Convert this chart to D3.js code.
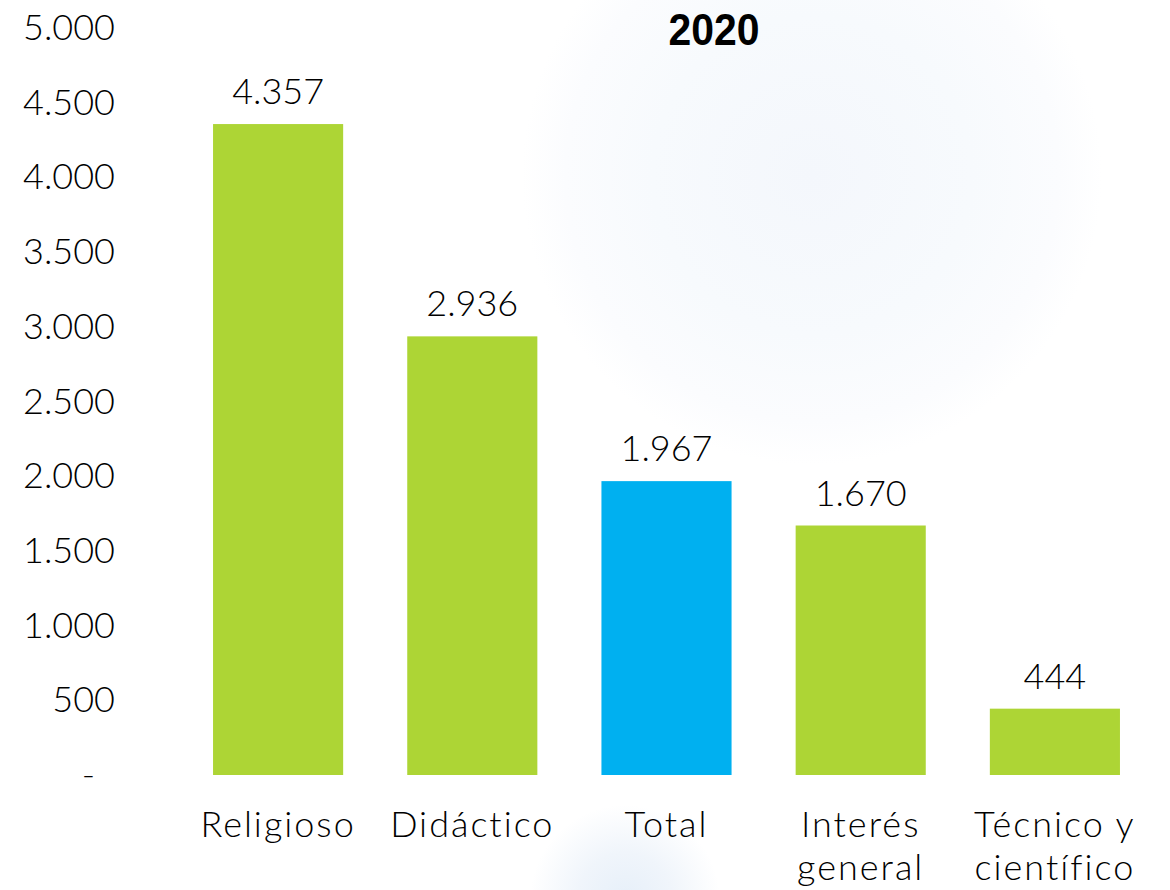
<!DOCTYPE html>
<html><head><meta charset="utf-8">
<script src="https://cdn.jsdelivr.net/npm/d3@7/dist/d3.min.js"></script>
<style>body{margin:0;background:#fff}svg{display:block}</style>
</head><body>
<svg id="chart" width="1170" height="890"></svg>
<script>
const categories = ["Religioso", "Didáctico", "Total", "Interés general", "Técnico y científico"];
const categoryLines = [["Religioso"], ["Didáctico"], ["Total"], ["Interés", "general"], ["Técnico y", "científico"]];
const values = [4357, 2936, 1967, 1670, 444];
const highlight = ["Total"];
const yTicks = [0, 500, 1000, 1500, 2000, 2500, 3000, 3500, 4000, 4500, 5000];
const title = "2020";

const svg = d3.select("#chart");
const font = "Lato, 'Noto Sans', sans-serif";
const defs = svg.append("defs");
const g1 = defs.append("radialGradient").attr("id", "bg1");
g1.append("stop").attr("offset", "0%").attr("stop-color", "#f4f7fc");
g1.append("stop").attr("offset", "55%").attr("stop-color", "#f7fafd");
g1.append("stop").attr("offset", "85%").attr("stop-color", "#fbfcfe");
g1.append("stop").attr("offset", "100%").attr("stop-color", "#ffffff");
const g2 = defs.append("radialGradient").attr("id", "bg2");
g2.append("stop").attr("offset", "0%").attr("stop-color", "#e6eff9");
g2.append("stop").attr("offset", "50%").attr("stop-color", "#f0f5fb");
g2.append("stop").attr("offset", "100%").attr("stop-color", "#ffffff");
svg.append("circle").attr("cx", 812).attr("cy", 175).attr("r", 290).attr("fill", "url(#bg1)");
svg.append("circle").attr("cx", 625).attr("cy", 900).attr("r", 95).attr("fill", "url(#bg2)");

const x = d3.scaleBand().domain(categories).range([181, 1152]).paddingInner(0.33).paddingOuter(0.165);
const y = d3.scaleLinear().domain([0, 5000]).range([775, 28]);

const loc = d3.formatLocale({decimal: ",", thousands: ".", grouping: [3], currency: ["", ""]});
const fmt = loc.format(",d");

const yAxis = svg.append("g").attr("transform", "translate(115,0)")
  .call(d3.axisLeft(y).tickValues(yTicks).tickSize(0).tickPadding(0).tickFormat(d => d === 0 ? "-" : fmt(d)));
yAxis.select(".domain").remove();
yAxis.selectAll("text").attr("font-family", font).attr("font-size", 36).attr("font-weight", 300).attr("fill", "#000")
  .attr("dx", d => d === 0 ? -20 : 0);

svg.append("g").selectAll("rect").data(categories).join("rect")
  .attr("x", d => x(d)).attr("width", x.bandwidth())
  .attr("y", (d, i) => y(values[i])).attr("height", (d, i) => y(0) - y(values[i]))
  .attr("fill", d => highlight.includes(d) ? "#00b0f0" : "#add535");

svg.append("g").selectAll("text").data(categories).join("text")
  .attr("x", d => x(d) + x.bandwidth() / 2).attr("y", (d, i) => y(values[i]) - 20)
  .attr("text-anchor", "middle").attr("font-family", font).attr("font-size", 36).attr("font-weight", 300).attr("fill", "#000")
  .text((d, i) => fmt(values[i]));

const cl = svg.append("g").selectAll("text").data(categories).join("text")
  .attr("text-anchor", "middle").attr("font-family", font).attr("font-size", 36).attr("font-weight", 300).attr("fill", "#000")
  .attr("letter-spacing", 2);
cl.each(function(d, i) {
  const t = d3.select(this);
  categoryLines[i].forEach((line, j) => {
    t.append("tspan").attr("x", x(d) + x.bandwidth() / 2).attr("y", 837 + j * 43).text(line);
  });
});

svg.append("text").attr("x", 714).attr("y", 45).attr("text-anchor", "middle")
  .attr("font-family", "'Liberation Sans', Arial, sans-serif").attr("font-weight", "bold")
  .attr("font-size", 44).attr("textLength", 91).attr("lengthAdjust", "spacingAndGlyphs").text(title);
</script>
</body></html>
